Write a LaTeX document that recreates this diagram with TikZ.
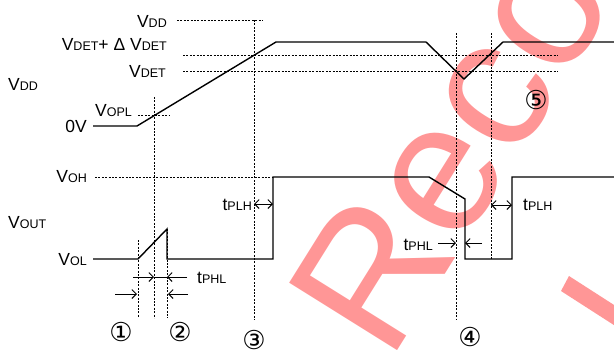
\documentclass[tikz,border=0pt]{standalone}
\usepackage{fontspec}
\setmainfont{Liberation Sans}
\newfontfamily\circfont{DejaVu Sans}
\usetikzlibrary{arrows.meta}
\definecolor{wmred}{RGB}{255,150,150}

% small second part of a level name, e.g. V + DD
\newcommand{\vsub}[2]{#1{\fontsize{12.5}{12.5}\selectfont #2}}

\tikzset{
  wave/.style={line width=1.4pt, line join=miter},
  guide/.style={line width=0.8pt, dash pattern=on 2pt off 1.4pt},
  lvl/.style={font=\fontsize{17.5}{17.5}\selectfont, inner sep=0pt},
  tbarb/.style={line width=0.9pt, -{Straight Barb[length=4.5pt,width=9pt]}},
  tboth/.style={line width=0.9pt, {Straight Barb[length=4.5pt,width=9pt]}-{Straight Barb[length=4.5pt,width=9pt]}},
  circnum/.style={font=\circfont\fontsize{26}{26}\selectfont, inner sep=0pt},
}

\begin{document}
\begin{tikzpicture}[x=1pt, y=-1pt]
  \useasboundingbox (0,0) rectangle (614,349);
  \begin{scope}
  \clip (0,0) rectangle (614,349);

  % watermark
  \node[wmred, rotate=58, anchor=base west, inner sep=0pt,
        font=\fontsize{185}{185}\selectfont] (wmark) at (389,364) {Reco};
  \fill[wmred] (569,276) -- (653,330) -- (645,345) -- (561,291) -- cycle;

  % level labels
  \node[lvl, anchor=east] (vddtop) at (167,21) {\vsub{V}{DD}};
  \node[lvl, anchor=east] (vdethys) at (167,44) {\vsub{V}{DET}+ Δ \vsub{V}{DET}};
  \node[lvl, anchor=east] (vdet) at (166,71) {\vsub{V}{DET}};
  \node[lvl, anchor=west] (vddsig) at (8,84) {\vsub{V}{DD}};
  \node[lvl, anchor=east] (vopl) at (132,111) {\vsub{V}{OPL}};
  \node[lvl, anchor=east] (zerov) at (87,126) {0V};
  \node[lvl, anchor=east] (voh) at (87,177) {\vsub{V}{OH}};
  \node[lvl, anchor=west] (vout) at (8,223) {\vsub{V}{OUT}};
  \node[lvl, anchor=east] (vol) at (87,260) {\vsub{V}{OL}};

  % dotted guides
  \draw[guide] (177,20) -- (263,20);
  \draw[guide] (183,55) -- (558,55);
  \draw[guide] (183,71) -- (558,71);
  \draw[guide] (138,115) -- (170,115);
  \draw[guide] (95,177) -- (273,177);
  \draw[guide] (154,97) -- (154,318);
  \draw[guide] (254,20) -- (254,320);
  \draw[guide] (138,240) -- (138,318);
  \draw[guide] (167,229) -- (167,318);
  \draw[guide] (456,33) -- (456,320);
  \draw[guide] (491,33) -- (491,259);

  % VDD waveform
  \draw[wave] (93,126) -- (137,126) -- (276,42) -- (426,42) -- (464,79)
    -- (503,42) -- (614,42);

  % VOUT waveform
  \draw[wave] (93,259) -- (138,259) -- (167,229) -- (167,259) -- (273,259)
    -- (273,177) -- (429,177) -- (465,199) -- (465,259) -- (512,259)
    -- (512,177) -- (614,177);

  % delay marks
  \draw[tbarb] (133,277) -- (154,277);
  \draw[line width=0.9pt] (154,277) -- (167,277);
  \draw[tbarb] (187,277) -- (167,277);
  \node[lvl, anchor=west] (tphla) at (197,278) {\vsub{t}{PHL}};
  \draw[tbarb] (115,294) -- (137,294);
  \draw[tbarb] (188,294) -- (168,294);

  \draw[tboth] (254,204) -- (273,204);
  \node[lvl, anchor=east] (tplha) at (252,205) {\vsub{t}{PLH}};

  \draw[tbarb] (438,243) -- (456,243);
  \draw[tbarb] (482,243) -- (465,243);
  \node[lvl, anchor=east] (tphlb) at (433,245) {\vsub{t}{PHL}};

  \draw[tboth] (491,205) -- (512,205);
  \node[lvl, anchor=west] (tplhb) at (523,205) {\vsub{t}{PLH}};

  % event numbers
  \node[circnum] (ev1) at (121,332) {①};
  \node[circnum] (ev2) at (180,332) {②};
  \node[circnum] (ev3) at (254,340) {③};
  \node[circnum] (ev4) at (470,337) {④};
  \node[circnum] (ev5) at (536,100) {⑤};
  \end{scope}
\end{tikzpicture}
\end{document}
